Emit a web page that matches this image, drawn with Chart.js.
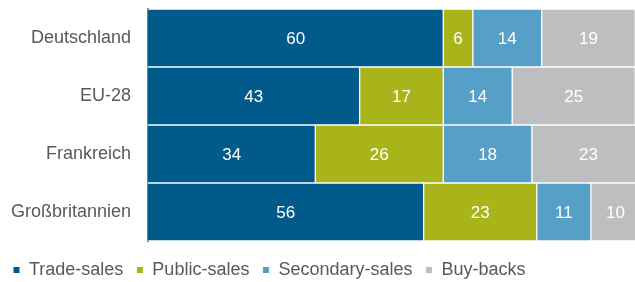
<!DOCTYPE html>
<html>
<head>
<meta charset="utf-8">
<script src="https://cdn.jsdelivr.net/npm/chart.js@4"></script>
<style>
  html, body { margin: 0; padding: 0; background: #fff; overflow: hidden; }
  #wrap { width: 650px; height: 282px; }
</style>
</head>
<body>
<div id="wrap"><canvas id="chart" width="650" height="282"></canvas></div>
<script>
// Exit routes by region, shares in percent
const regions = ['Deutschland', 'EU-28', 'Frankreich', 'Großbritannien'];
const seriesNames = ['Trade-sales', 'Public-sales', 'Secondary-sales', 'Buy-backs'];
const tradeSales = [60, 43, 34, 56];
const publicSales = [6, 17, 26, 23];
const secondarySales = [14, 14, 18, 11];
const buyBacks = [19, 25, 23, 10];

const colors = ['#005A8C', '#A8B41A', '#56A0C8', '#BCBEC0'];
const fontFamily = "'Liberation Sans', Arial, sans-serif";

// ── Value labels inside the bars ───────────────────────────────────────────
const barLabels = {
    id: 'barLabels',
    afterDatasetsDraw(chart) {
        const ctx = chart.ctx;
        ctx.save();
        ctx.font = '17px ' + fontFamily;
        ctx.fillStyle = '#fff';
        ctx.textAlign = 'center';
        ctx.textBaseline = 'middle';
        chart.data.datasets.forEach((ds, i) => {
            chart.getDatasetMeta(i).data.forEach((bar, j) => {
                const p = bar.getCenterPoint();
                ctx.fillText(String(ds.data[j]), p.x, p.y + 1);
            });
        });
        ctx.restore();
    }
};

const values = [tradeSales, publicSales, secondarySales, buyBacks];

const chart = new Chart(document.getElementById('chart'), {
    type: 'bar',
    data: {
        labels: regions,
        datasets: seriesNames.map((name, i) => ({
            label: name,
            data: values[i],
            backgroundColor: colors[i],
            borderColor: '#fff',
            borderWidth: 1,
            borderSkipped: i === 0 ? 'left' : false,
            barPercentage: 1,
            categoryPercentage: 1
        }))
    },
    options: {
        indexAxis: 'y',
        responsive: false,
        animation: false,
        layout: { padding: { top: 9, left: 0, right: 0, bottom: 0 } },
        scales: {
            x: {
                stacked: true,
                display: false,
                min: 0,
                max: 102
            },
            y: {
                stacked: true,
                grid: { display: false, drawTicks: false },
                border: { display: true, color: '#7F7F7F', width: 2 },
                ticks: {
                    color: '#595959',
                    padding: 17,
                    font: { family: fontFamily, size: 18 }
                },
                afterFit(scale) {
                    scale.width = 148;
                    scale.paddingTop = 0;
                    scale.paddingBottom = 0;
                }
            }
        },
        plugins: {
            legend: {
                position: 'bottom',
                align: 'start',
                title: { display: true, text: '', padding: 0, font: { size: 7, lineHeight: 1 } },
                labels: {
                    boxWidth: 7,
                    boxHeight: 7,
                    padding: 13,
                    color: '#595959',
                    font: { family: fontFamily, size: 18 }
                }
            },
            tooltip: { enabled: false }
        }
    },
    plugins: [barLabels]
});

// keep the legend strip at the reference height
const legendFit = chart.legend.fit;
chart.legend.fit = function () {
    legendFit.call(this);
    this.height = 41;
};
chart.update();
</script>
</body>
</html>
